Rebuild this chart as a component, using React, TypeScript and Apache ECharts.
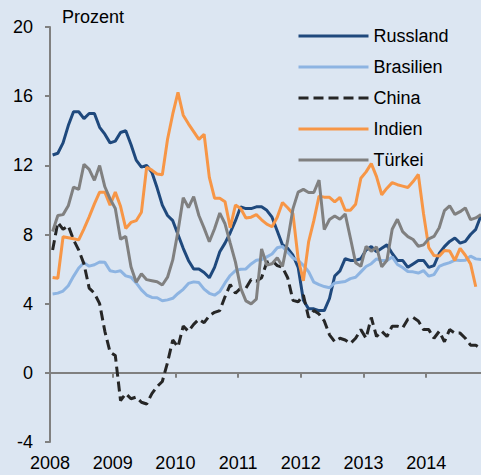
import React, { useEffect, useRef } from 'react';
import * as echarts from 'echarts';

const startYear = 2008;
const yearTicks = [2008, 2009, 2010, 2011, 2012, 2013, 2014];
const seriesNames = ['Russland', 'Brasilien', 'China', 'Indien', 'Türkei'];
const yAxisName = 'Prozent';

// Monthly values, Jan 2008 – Nov 2014
const russland = [
  12.6, 12.7, 13.3, 14.3, 15.1, 15.1, 14.7, 15.0, 15.0, 14.2, 13.8, 13.3,
  13.4, 13.9, 14.0, 13.2, 12.3, 11.9, 12.0, 11.6, 10.7, 9.7, 9.1, 8.8,
  8.0, 7.2, 6.5, 6.0, 6.0, 5.8, 5.5, 6.1, 7.0, 7.5, 8.1, 8.8,
  9.6, 9.5, 9.5, 9.6, 9.6, 9.4, 9.0, 8.2, 7.4, 7.2, 6.8, 6.1,
  4.2, 3.7, 3.7, 3.6, 3.6, 4.3, 5.6, 5.9, 6.6, 6.5, 6.5, 6.6,
  7.1, 7.3, 7.0, 7.2, 7.4, 6.9, 6.5, 6.5, 6.1, 6.3, 6.5, 6.5,
  6.1, 6.2, 6.9, 7.3, 7.6, 7.8, 7.5, 7.6, 8.0, 8.3, 9.1,
];
const brasilien = [
  4.56, 4.61, 4.73, 5.04, 5.58, 6.06, 6.37, 6.17, 6.25, 6.41, 6.39, 5.9,
  5.84, 5.9, 5.61, 5.53, 5.2, 4.8, 4.5, 4.36, 4.34, 4.17, 4.22, 4.31,
  4.59, 4.83, 5.17, 5.26, 5.22, 4.84, 4.6, 4.49, 4.7, 5.2, 5.63, 5.91,
  5.99, 6.01, 6.3, 6.51, 6.55, 6.71, 6.87, 7.23, 7.31, 6.97, 6.64, 6.5,
  6.22, 5.85, 5.24, 5.1, 4.99, 4.92, 5.2, 5.24, 5.28, 5.45, 5.53, 5.84,
  6.15, 6.31, 6.59, 6.49, 6.5, 6.7, 6.27, 6.09, 5.86, 5.84, 5.77, 5.91,
  5.59, 5.68, 6.15, 6.28, 6.37, 6.52, 6.5, 6.51, 6.75, 6.59, 6.56,
];
const china = [
  7.1, 8.7, 8.3, 8.5, 7.7, 7.1, 6.3, 4.9, 4.6, 4.0, 2.4, 1.2,
  1.0, -1.6, -1.2, -1.5, -1.4, -1.7, -1.8, -1.2, -0.8, -0.5, 0.6, 1.9,
  1.5, 2.7, 2.4, 2.8, 3.1, 2.9, 3.3, 3.5, 3.6, 4.4, 5.1, 4.6,
  4.9, 4.9, 5.4, 5.3, 5.5, 6.4, 6.5, 6.2, 6.1, 5.5, 4.2, 4.1,
  4.5, 3.2, 3.6, 3.4, 3.0, 2.2, 1.8, 2.0, 1.9, 1.7, 2.0, 2.5,
  2.0, 3.2, 2.1, 2.4, 2.1, 2.7, 2.7, 2.6, 3.1, 3.2, 3.0, 2.5,
  2.5, 2.0, 2.4, 1.8, 2.5, 2.3, 2.3, 2.0, 1.6, 1.6, 1.4,
];
const indien = [
  5.51, 5.47, 7.87, 7.81, 7.75, 7.69, 8.33, 9.02, 9.77, 10.45, 10.45, 9.7,
  10.45, 9.63, 8.35, 8.7, 8.8, 9.29, 11.89, 11.72, 11.5, 11.45, 13.51, 14.97,
  16.22, 14.9, 14.4, 13.95, 13.5, 13.8, 11.3, 10.1, 10.1, 9.9, 8.4, 9.7,
  9.5, 8.95, 9.0, 9.15, 8.85, 8.6, 8.45, 9.0, 9.85, 9.55, 9.2, 6.6,
  5.32, 7.57, 8.8, 10.22, 10.16, 10.15, 9.88, 10.15, 9.4, 9.4, 9.75, 11.25,
  11.62, 12.1, 11.35, 10.3, 10.68, 11.0, 10.88, 10.8, 10.72, 11.06, 11.47, 9.2,
  7.24, 6.78, 6.75, 7.08, 7.05, 6.5, 7.2, 6.8, 6.3, 4.98,
];
const tuerkei = [
  8.17, 9.1, 9.15, 9.66, 10.74, 10.61, 12.06, 11.77, 11.13, 11.99, 10.76, 10.06,
  9.5, 7.73, 7.89, 6.13, 5.24, 5.73, 5.39, 5.33, 5.27, 5.08, 5.53, 6.53,
  8.19, 10.13, 9.56, 10.19, 9.1, 8.37, 7.58, 8.33, 9.24, 8.62, 7.5, 6.4,
  4.9, 4.16, 3.99, 4.26, 7.17, 6.24, 6.31, 6.65, 6.15, 7.66, 9.48, 10.45,
  10.61, 10.43, 10.43, 11.14, 8.28, 8.87, 9.07, 8.88, 9.19, 7.8, 6.37, 6.16,
  7.31, 7.03, 7.29, 6.13, 6.51, 8.3, 8.88, 8.17, 7.88, 7.71, 7.32, 7.4,
  7.75, 7.89, 8.39, 9.38, 9.66, 9.16, 9.32, 9.54, 8.86, 8.96, 9.15,
];

const colors = ['#1f497d', '#8db4e2', '#262626', '#f79646', '#808080'];
const FONT = '"Liberation Sans", Arial, sans-serif';
const AXIS = '#808080';

const toPoints = (vals: number[]) => vals.map((v, i) => [startYear + (i + 0.5) / 12, v]);

export default function App() {
  const ref = useRef<HTMLDivElement>(null);
  useEffect(() => {
    if (!ref.current) return;
    const chart = echarts.init(ref.current, null, { renderer: 'svg' });
    const xMin = startYear;
    const xMax = startYear + (russland.length - 0.5) / 12;
    const labelFmt = (v: number) => (Math.abs(v - Math.round(v)) < 1e-6 ? String(Math.round(v)) : '');
    const all = [russland, brasilien, china, indien, tuerkei];
    chart.setOption({
      animation: false,
      backgroundColor: '#dce6f2',
      textStyle: { fontFamily: FONT },
      grid: { left: 50, right: 0, top: 27, bottom: 33, containLabel: false },
      legend: {
        orient: 'vertical',
        left: 297,
        top: 27,
        padding: 0,
        itemWidth: 70,
        itemHeight: 14,
        itemGap: 13,
        data: seriesNames,
        itemStyle: { opacity: 0 },
        lineStyle: { width: 3 },
        textStyle: { fontSize: 18, color: '#000', fontFamily: FONT, lineHeight: 18 },
      },
      graphic: [
        {
          type: 'text',
          x: 62,
          y: 17,
          style: { text: yAxisName, fontSize: 18, fill: '#000', fontFamily: FONT, verticalAlign: 'middle', align: 'left' },
        },
      ],
      xAxis: [
        {
          type: 'value',
          min: xMin,
          max: xMax,
          interval: 1,
          position: 'bottom',
          axisLine: { show: true, onZero: true, lineStyle: { color: AXIS, width: 2 } },
          axisTick: { show: true, inside: false, length: 5, lineStyle: { color: AXIS, width: 2 }, customValues: yearTicks },
          axisLabel: { show: false },
          splitLine: { show: false },
        },
        {
          type: 'value',
          min: xMin,
          max: xMax,
          interval: 1,
          position: 'bottom',
          axisLine: { show: false, onZero: false },
          axisTick: { show: false },
          axisLabel: {
            show: true,
            margin: 12,
            fontSize: 18,
            color: '#000',
            fontFamily: FONT,
            customValues: yearTicks,
            formatter: labelFmt,
          },
          splitLine: { show: false },
        },
      ],
      yAxis: {
        type: 'value',
        min: -4,
        max: 20,
        interval: 4,
        axisLine: { show: true, onZero: false, lineStyle: { color: AXIS, width: 2 } },
        axisTick: { show: true, inside: false, length: 5, lineStyle: { color: AXIS, width: 2 } },
        axisLabel: { margin: 17, fontSize: 18, color: '#000', fontFamily: FONT },
        splitLine: { show: false },
      },
      series: seriesNames.map((name, i) => ({
        name,
        type: 'line',
        xAxisIndex: 0,
        data: toPoints(all[i]),
        symbol: 'none',
        showSymbol: false,
        clip: true,
        lineStyle: {
          color: colors[i],
          width: 3,
          type: name === 'China' ? [10, 5] : 'solid',
        },
        itemStyle: { color: colors[i] },
      })),
    });
    return () => chart.dispose();
  }, []);
  return (
    <div
      ref={ref}
      style={{ position: 'fixed', left: 0, top: 0, width: 481, height: 475 }}
    />
  );
}
